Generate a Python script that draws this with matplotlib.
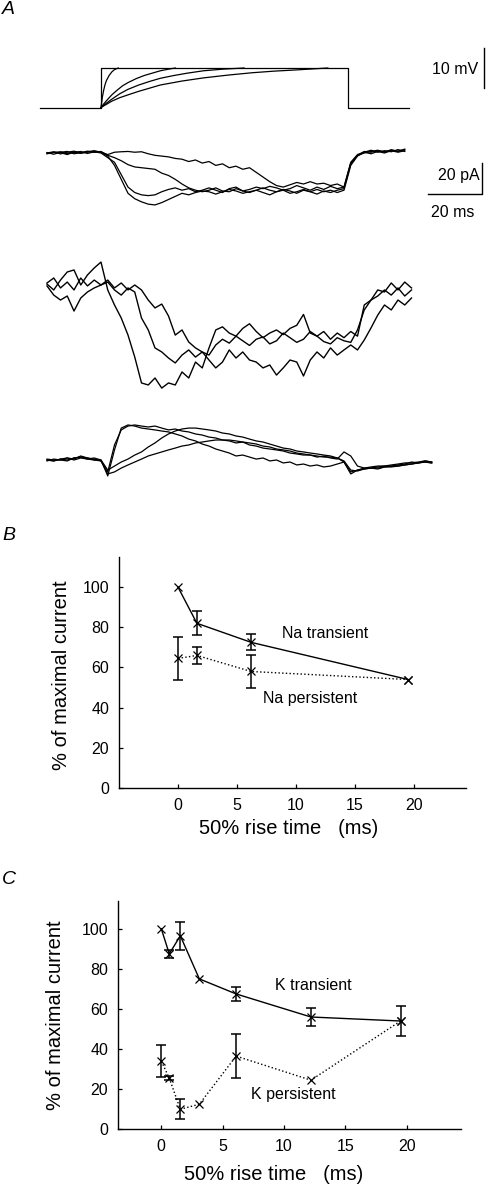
import numpy as np
import matplotlib
matplotlib.use("Agg")
import matplotlib.pyplot as plt

plt.rcParams['font.family'] = ['Liberation Sans', 'DejaVu Sans']

# ---------------- Panel A data ----------------
# command voltage (ms, mV)
pulse_t = [-22.6, 0, 0, 91.5, 91.5, 114.1]
pulse_v = [0, 0, 10, 10, 0, 0]
ramp1_t = [0, 0.5, 1, 1.5, 2, 3, 4, 5, 6.4]
ramp1_v = [0, 2.6, 4.4, 5.8, 6.8, 8.1, 9.0, 9.6, 10]
ramp2_t = [0, 1, 2, 4, 6, 8, 10, 13, 16, 19, 22, 25, 27.5]
ramp2_v = [0, 0.9, 1.7, 3.2, 4.4, 5.5, 6.3, 7.3, 8.1, 8.7, 9.3, 9.7, 10]
ramp3_t = [0, 2, 4, 7, 10, 14, 18, 22, 27, 32, 38, 45, 53]
ramp3_v = [0, 1.1, 2.1, 3.5, 4.6, 5.7, 6.6, 7.4, 8.1, 8.7, 9.3, 9.7, 10]
ramp4_t = [0, 2, 4, 7, 10, 14, 18, 22, 30, 38, 47, 56, 64, 72, 84]
ramp4_v = [0, 0.8, 1.6, 2.5, 3.2, 4.1, 4.9, 5.7, 6.7, 7.5, 8.2, 8.8, 9.2, 9.5, 10]

# sampling times of current records (ms)
t_rec = [-20, -17.5, -15, -12.5, -10, -7.5, -5, -2.5, 0, 2.5, 5, 7.5, 10, 12.5, 15, 17.5,
         20, 22.5, 25, 27.5, 30, 32.5, 35, 37.5, 40, 42.5, 45, 47.5, 50, 52.5, 55, 57.5,
         60, 62.5, 65, 67.5, 70, 72.5, 75, 77.5, 80, 82.5, 85, 87.5, 90, 92.5, 95, 97.5,
         100, 102.5, 105, 107.5, 110, 112.5, 115, 117.5, 120, 122.5]

# top current records (pA)
i1_a = [0, 0.8, -0.6, 0.5, 1.2, 0, 0.8, 1.5, 0.5, -2, -8, -17, -26, -29.5, -31.5, -33,
        -33.5, -32, -30, -28, -26, -27, -25.5, -24.5, -25, -26.5, -25, -23.5, -24.5, -26,
        -25, -24, -25.5, -27, -25, -24, -26, -25, -23.5, -25, -26.5, -24.5, -25.5, -24,
        -23, -7, -1.5, 1, 0.5, 1.5, 0.8, 2, 1.2, 2.5]
i1_b = [-0.5, 0.3, 0.8, -0.5, 0.4, 1, -0.3, 0.8, 0, -3, -6, -14, -22, -25.5, -27, -27.5,
        -27, -25, -23.5, -22.5, -24, -23, -25, -24, -22.5, -24, -25.5, -23, -22, -24.5,
        -23.5, -22, -23, -21.5, -22.5, -24, -23, -21, -22.5, -24, -22, -23.5, -21.5, -23,
        -22, -6, -1, 0.5, 1.8, 0.5, 1.5, 0.8, 2.2, 1]
i1_c = [0.3, -0.8, 0.5, 1, -0.5, 0.2, 1.2, 0.4, 1, -1.5, -3, -5, -7.5, -9, -9.5, -10,
        -10.5, -13, -14.5, -17, -20, -22.5, -24, -25, -24, -22.5, -24.5, -25, -23, -24.5,
        -25.5, -24, -22.5, -24, -25, -23.5, -24.5, -26, -24, -25, -23.5, -25, -24, -25.5,
        -24, -8, -2, 0.5, -0.5, 1, 0, 1.5, 0.5, 1.5]
i1_d = [-0.3, 0.5, 0.2, -1, 0.7, -0.2, 0.5, 1, 0.5, -1, 0.5, 0.8, 1, 0.5, 0.8, -0.5,
        -1.5, -2, -2.5, -3.5, -4, -5.5, -4.5, -6.5, -5.5, -8, -7, -9.5, -8.5, -10.5,
        -9.5, -12.5, -15.5, -18.5, -21, -22, -20.5, -19, -20, -18.5, -20, -19.5, -21, -20,
        -22, -6.5, -1.5, 0, 1, 1.8, 0.5, 2, 1, 2.2]

# middle current records (pA)
i2_a = [0.6, -3.2, 3.2, 8.4, 9.7, 0, 6.5, 11, 14.8, -3.2, -12.9, -21.3, -32.3, -46.5, -63.2,
        -64.5, -60, -66.5, -63.2, -64.5, -56.1, -60, -49.7, -53.5, -40.6, -29, -27, -31,
        -33, -28, -25, -30, -34, -31, -29, -32, -28, -26, -19, -31, -33, -30, -35, -31,
        -34, -30, -33, -12.9, -9.7, -3.2, -4.5, 1.3, -3.2, 1.9, -1.9]
i2_b = [1.3, 4.5, -1.9, 1.9, -3.2, 4.5, -0.6, 3.2, 0, 1.9, -3.2, -6.5, -1.9, -4.5, -21.3,
        -29, -40.6, -43.2, -47.1, -50.3, -45.2, -41.9, -46.5, -43.2, -45.2, -38.7, -35,
        -37.5, -33, -36, -39, -35, -33.5, -38, -36, -31, -34, -37, -35, -30, -33, -36.5,
        -38, -34, -36, -37, -29, -16.1, -9.7, -7.1, -3.2, -6.5, -1.9, -7.1, -3.2]
i2_c = [-0.6, -6.5, -9.7, -7.1, -16.8, -8.4, -4.5, -1.9, 0, 3.2, -1.9, 1.3, -3.2, 0, -3.2,
        -9.7, -14.8, -12.3, -20, -32.3, -29, -36.8, -40.6, -43.2, -48.4, -53.5, -49.7, -41.9,
        -47.1, -43.2, -48.4, -49.7, -53.5, -51.6, -58.1, -53.5, -48.4, -49.7, -58.7, -48.4,
        -43.2, -47.1, -40.6, -45.2, -41.9, -38.7, -41.9, -35.5, -27.7, -19.4, -12.9, -16.1,
        -9.7, -12.9, -8.4]

# bottom current records (pA)
i3_a = [0, -0.6, 0.6, 0, 1.3, 1.9, 0.6, 1.3, 0, -10.3, 6.5, 20.6, 22.6, 21.9, 20.6, 20,
        19.4, 18.7, 18.1, 16.8, 15.5, 13.5, 12.3, 10.3, 9, 7.1, 5.8, 4.5, 2.6, 3.2, 1.9, 0.6,
        1.3, -0.6, 0, -1.9, -1.3, -3.2, -2.6, -3.9, -3.2, -4.5, -3.9, -2.6, -1.3, -7.7, -6.5,
        -5.8, -5.2, -5.8, -4.5, -4.5, -3.9, -3.2, -2.6, -1.9, -1.3, -1.9]
i3_b = [0.6, 0, 0, 1.3, 0.6, 2.6, 1.3, 0.6, -0.6, -7.7, 9.7, 19.4, 21.9, 22.6, 21.9, 21.3,
        21.9, 20.6, 19.4, 20, 18.7, 18.1, 16.8, 16.1, 14.8, 14.2, 12.9, 12.3, 11, 11.6, 9.7,
        9, 7.7, 7.1, 6.5, 5.8, 4.5, 3.9, 3.2, 3.2, 1.9, 2.5, 1.3, 0.6, 5.2, 2.6, -3.9, -5.2,
        -4.5, -3.9, -3.9, -3.2, -2.6, -1.9, -1.9, -1.3, -0.6, -1.3]
i3_c = [-0.6, 0.6, 0, -0.6, 1.3, 1.9, 1.3, 0, 0, -6.5, -3.9, -1.3, 0.6, 3.2, 5.2, 8.4, 11,
        14.2, 16.8, 18.7, 20, 20.6, 20.6, 20, 19.4, 18.7, 17.4, 16.8, 15.5, 14.8, 13.5, 12.3,
        11.6, 10.3, 9, 7.7, 7.1, 5.8, 5.2, 4.5, 3.9, 3.2, 2.6, 1.3, -1.3, -9, -6.5, -5.2, -5.2,
        -4.5, -3.9, -3.9, -3.2, -2.6, -1.3, -1.9, -0.6, -1.3]
i3_d = [0, -0.6, 0.6, 1.3, 0, 1.3, 0.6, 0, -0.6, -9, -7.7, -5.2, -3.2, -1.3, 0.6, 2.6, 3.9,
        5.2, 6.5, 7.7, 9, 9.7, 11, 11.6, 12.3, 12.9, 12.9, 12.9, 12.3, 11.6, 11, 10.3, 9, 8.4,
        7.1, 6.5, 5.8, 4.5, 3.9, 3.2, 2.6, 1.9, 1.9, 1.3, -0.6, -6.5, -7.1, -5.8, -5.2, -5.2,
        -4.5, -3.9, -3.9, -3.2, -2.6, -1.9, -1.3, -1.9]

# ---------------- Panel B data ----------------
na_x = [0, 1.6, 6.2, 19.5]
na_trans = [100, 82, 72.5, 54]
na_trans_err = [0, 6, 4, 0]
na_pers = [64.5, 66, 58, 54]
na_pers_err = [10.5, 4.2, 8, 0]

# ---------------- Panel C data ----------------
k_x = [0, 0.65, 1.55, 3.1, 6.1, 12.2, 19.5]
k_trans = [100, 87.5, 96.5, 75, 67.5, 56, 54]
k_trans_err = [0, 1.9, 7, 0, 3.5, 4.3, 7.4]
k_pers = [34, 25.5, 10, 12.5, 36.5, 24.5, 54]
k_pers_err = [8, 1.0, 5, 0, 11, 0, 0]

x_ticks = [0, 5, 10, 15, 20]
y_ticks = [0, 20, 40, 60, 80, 100]

# ---------------- figure ----------------
W, H = 489, 1186
fig = plt.figure(figsize=(W / 100, H / 100), dpi=100)
PX_PER_MS = 2.7
T_LEFT = -101 / PX_PER_MS
T_RIGHT = (W - 101) / PX_PER_MS


def band_axes(top, bottom, base, ppu):
    ax = fig.add_axes([0, 1 - bottom / H, 1, (bottom - top) / H])
    ax.set_xlim(T_LEFT, T_RIGHT)
    ax.set_ylim((base - bottom) / ppu, (base - top) / ppu)
    ax.axis('off')
    return ax


LW = 0.9
# voltage commands
axv = band_axes(35, 120, 107.5, 3.95)
axv.plot(pulse_t, pulse_v, color='k', lw=LW)
for tt, vv in [(ramp1_t, ramp1_v), (ramp2_t, ramp2_v), (ramp3_t, ramp3_v), (ramp4_t, ramp4_v)]:
    axv.plot(tt, vv, color='k', lw=LW)
axv.plot([141.85, 141.85], [5, 15], color='k', lw=1.0)
axv.text(139.6, 9.6, '10 mV', ha='right', va='center', fontsize=11.5)

# top currents
ax1 = band_axes(125, 225, 153, 1.55)
t1 = t_rec[:54]
for tr in (i1_a, i1_b, i1_c, i1_d):
    ax1.plot(t1, tr, color='k', lw=LW)
ax1.plot([121.1, 141.1, 141.1], [-26.45, -26.45, -6.45], color='k', lw=1.0)
ax1.text(140.2, -14.2, '20 pA', ha='right', va='center', fontsize=11.5)
ax1.text(130.2, -38.7, '20 ms', ha='center', va='center', fontsize=11.5)

# middle currents
ax2 = band_axes(240, 405, 285, 1.55)
t2 = t_rec[:55]
for tr in (i2_a, i2_b, i2_c):
    ax2.plot(t2, tr, color='k', lw=1.0)

# bottom currents
ax3 = band_axes(405, 495, 460, 1.55)
for tr in (i3_a, i3_b, i3_c, i3_d):
    ax3.plot(t_rec, tr, color='k', lw=LW)

# panel letters
for lab, y in [('A', 10), ('B', 535), ('C', 880)]:
    fig.text(2 / W, 1 - y / H, lab, fontsize=14, style='italic', ha='left', va='center')


def style_axes(ax):
    ax.spines['top'].set_visible(False)
    ax.spines['right'].set_visible(False)
    for s in ('left', 'bottom'):
        ax.spines[s].set_linewidth(1.0)
    ax.tick_params(direction='in', length=3, width=0.9, labelsize=11.5, pad=7)
    ax.set_xticks(x_ticks)
    ax.set_yticks(y_ticks)


def draw_series(ax, x, y, err, ls):
    ax.plot(x, y, color='k', ls=ls, lw=1.0, marker='x', ms=6, mew=0.9)
    ex = [a for a, e in zip(x, err) if e > 0]
    ey = [b for b, e in zip(y, err) if e > 0]
    ee = [e for e in err if e > 0]
    ax.errorbar(ex, ey, yerr=ee, fmt='none', ecolor='k', elinewidth=1.1, capsize=3.5,
                capthick=1.1)


# Panel B
axB = fig.add_axes([119 / W, 1 - 788 / H, 347 / W, 231 / H])
style_axes(axB)
axB.set_xlim(-5, 24.4)
axB.set_ylim(0, 115)
draw_series(axB, na_x, na_trans, na_trans_err, '-')
draw_series(axB, na_x, na_pers, na_pers_err, ':')
axB.text(8.84, 77.1, 'Na transient', fontsize=11.5, ha='left', va='center')
axB.text(7.23, 44.8, 'Na persistent', fontsize=11.5, ha='left', va='center')
fig.text(62 / W, 1 - 675 / H, '% of maximal current', rotation=90, fontsize=14.5,
         ha='center', va='center')
fig.text(289 / W, 1 - 829 / H, '50% rise time   (ms)', fontsize=14.5, ha='center', va='center')

# Panel C
axC = fig.add_axes([118 / W, 1 - 1129.3 / H, 343 / W, 228.6 / H])
style_axes(axC)
axC.set_xlim(-3.53, 24.43)
axC.set_ylim(0, 114)
draw_series(axC, k_x, k_trans, k_trans_err, '-')
draw_series(axC, k_x, k_pers, k_pers_err, ':')
axC.text(9.27, 71.5, 'K transient', fontsize=11.5, ha='left', va='center')
axC.text(7.32, 17.6, 'K persistent', fontsize=11.5, ha='left', va='center')
fig.text(56 / W, 1 - 1015 / H, '% of maximal current', rotation=90, fontsize=14.5,
         ha='center', va='center')
fig.text(273.5 / W, 1 - 1174 / H, '50% rise time   (ms)', fontsize=14.5, ha='center', va='center')

fig.savefig('out.png', dpi=100)
